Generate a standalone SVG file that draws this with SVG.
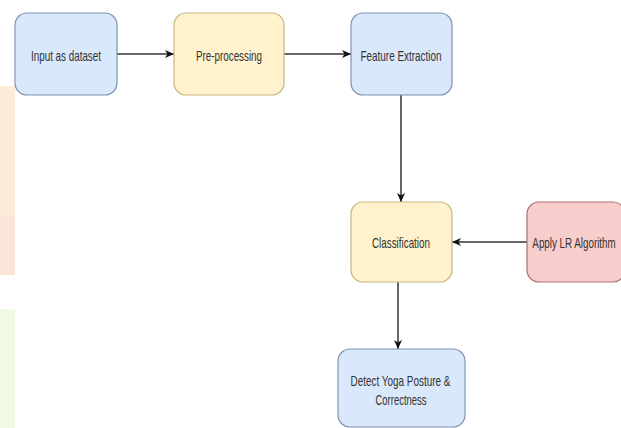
<svg xmlns="http://www.w3.org/2000/svg" width="621" height="428" viewBox="0 0 621 428">
<style>
.box{stroke-width:1.2}
.blue{fill:#dae8fc;stroke:#7d93b2}
.yellow{fill:#fff2cc;stroke:#c9b77e}
.red{fill:#f8cecc;stroke:#b0706c}
.lbl{font-family:"Liberation Sans",Arial,sans-serif;font-size:15px;fill:#333333;text-anchor:middle}
.edge{fill:none;stroke:#333333;stroke-width:1.5}
</style>
<defs>
<marker id="arr" markerUnits="userSpaceOnUse" markerWidth="10" markerHeight="10" viewBox="0 0 10 10" refX="9" refY="5" orient="auto">
<path d="M0,1 L9,5 L0,9 L2.5,5 Z" fill="#111111"/>
</marker>
</defs>
<rect width="621" height="428" fill="#ffffff"/>
<g id="background">
<rect x="0" y="86" width="15" height="130" fill="#fdecd9"/>
<rect x="0" y="216" width="15" height="59" fill="#fde4d8"/>
<rect x="0" y="309" width="15" height="119" fill="#f0f9e3"/>
</g>
<g id="connectors">
<line class="edge" x1="117" y1="54" x2="174" y2="54" marker-end="url(#arr)"/>
<line class="edge" x1="284" y1="54" x2="351" y2="54" marker-end="url(#arr)"/>
<line class="edge" x1="401" y1="95" x2="401" y2="202" marker-end="url(#arr)"/>
<line class="edge" x1="527" y1="242" x2="452" y2="242" marker-end="url(#arr)"/>
<line class="edge" x1="398" y1="282" x2="398" y2="349" marker-end="url(#arr)"/>
</g>
<g id="input">
<rect class="box blue" x="15" y="13" width="102" height="82" rx="12"/>
<text class="lbl" x="66" y="60.5" textLength="70" lengthAdjust="spacingAndGlyphs">Input as dataset</text>
</g>
<g id="preprocessing">
<rect class="box yellow" x="174" y="13" width="110" height="82" rx="12"/>
<text class="lbl" x="229" y="60.5" textLength="66" lengthAdjust="spacingAndGlyphs">Pre-processing</text>
</g>
<g id="feature">
<rect class="box blue" x="351" y="13" width="101" height="82" rx="12"/>
<text class="lbl" x="401" y="60.5" textLength="81" lengthAdjust="spacingAndGlyphs">Feature Extraction</text>
</g>
<g id="classification">
<rect class="box yellow" x="351" y="202" width="101" height="80" rx="12"/>
<text class="lbl" x="401" y="247.5" textLength="58" lengthAdjust="spacingAndGlyphs">Classification</text>
</g>
<g id="lr">
<rect class="box red" x="527" y="202" width="98" height="80" rx="12"/>
<text class="lbl" transform="translate(574,247.5) scale(0.654,1)" x="0" y="0">Apply LR Algorithm</text>
</g>
<g id="detect">
<rect class="box blue" x="338" y="349" width="127" height="78" rx="12"/>
<text class="lbl" x="400.5" y="386" textLength="100" lengthAdjust="spacingAndGlyphs">Detect Yoga Posture &amp;</text>
<text class="lbl" x="401" y="405" textLength="51" lengthAdjust="spacingAndGlyphs">Correctness</text>
</g>
</svg>
